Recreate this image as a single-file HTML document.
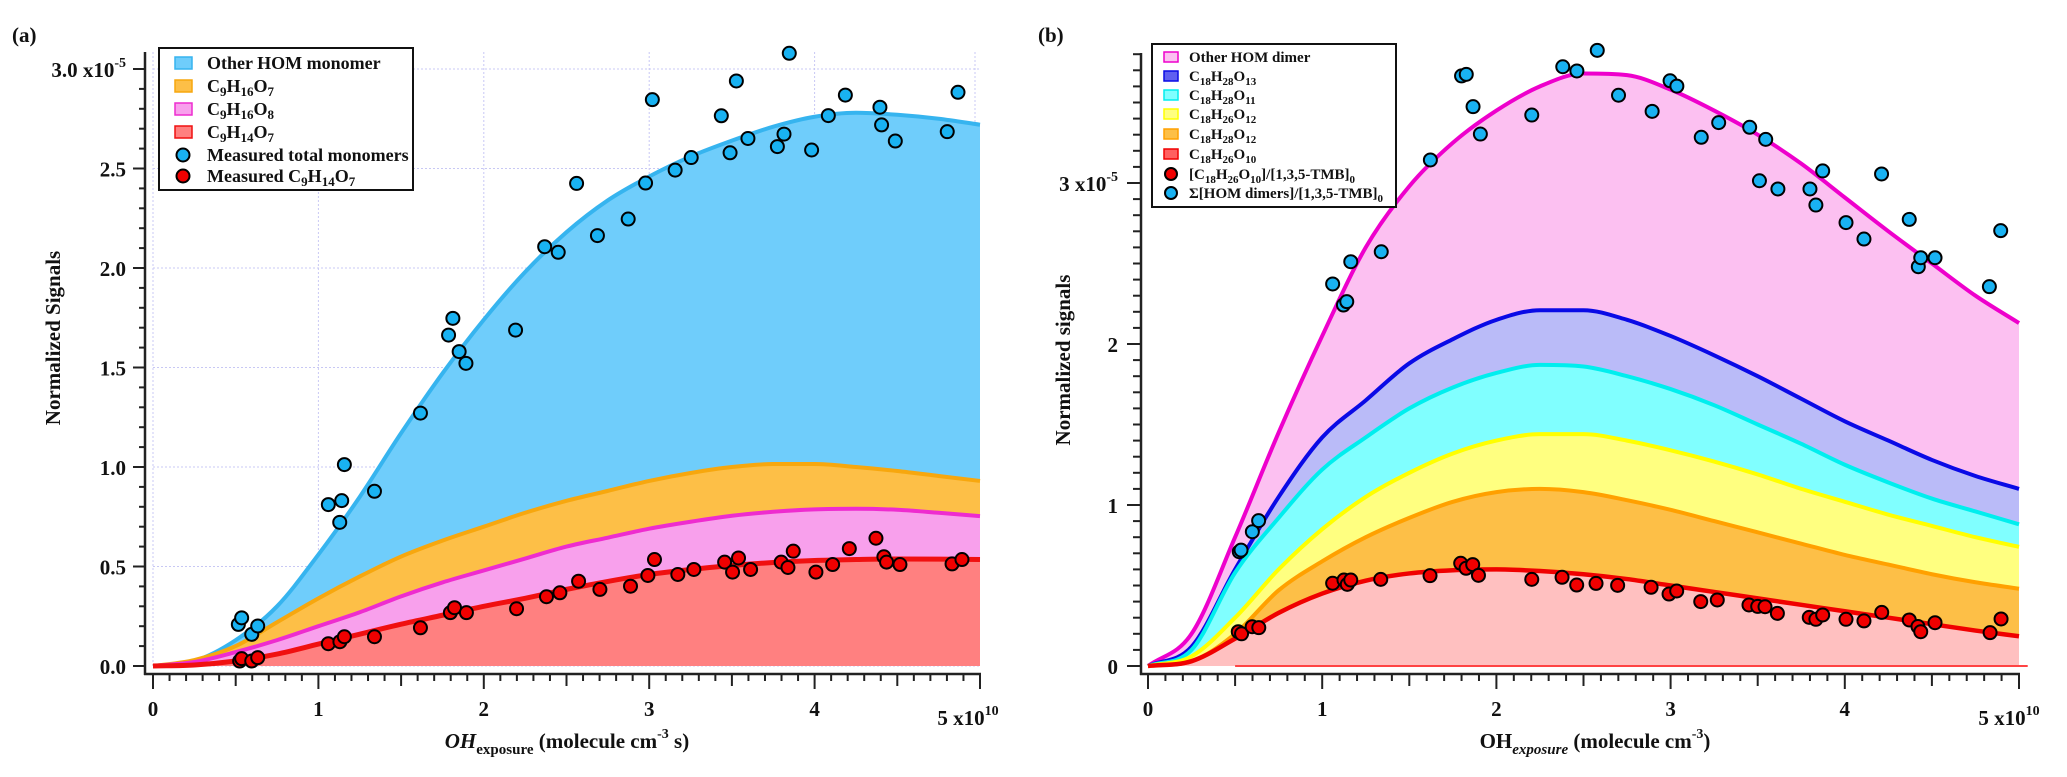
<!DOCTYPE html>
<html><head><meta charset="utf-8">
<style>
html,body{margin:0;padding:0;background:#fff;}
svg{display:block;font-family:"Liberation Serif",serif;}
.tk{font-weight:bold;font-size:21px;fill:#111;}
.lg{font-weight:bold;font-size:18px;fill:#111;}
.lgb{font-weight:bold;font-size:15px;fill:#111;}
</style></head>
<body>
<svg id="chart" width="2067" height="777" viewBox="0 0 2067 777" xmlns="http://www.w3.org/2000/svg">
<g id="pa"></g>
<g id="pb"></g>
</svg>
<script>
// ---------- Panel (a) data ----------
const xsA = [0,0.25,0.5,0.75,1,1.25,1.5,1.75,2,2.25,2.5,2.75,3,3.25,3.5,3.75,4,4.25,4.5,4.75,5];
const otherMonomerTop = [0,0.025,0.13,0.3,0.56,0.85,1.17,1.47,1.74,1.98,2.18,2.34,2.46,2.56,2.64,2.71,2.76,2.78,2.77,2.75,2.72];
const c9h16o7Top = [0,0.03,0.1,0.22,0.34,0.45,0.55,0.63,0.7,0.77,0.83,0.88,0.93,0.97,1.0,1.015,1.015,1.0,0.98,0.955,0.93];
const c9h16o8Top = [0,0.02,0.07,0.13,0.2,0.27,0.35,0.42,0.48,0.54,0.6,0.645,0.69,0.725,0.755,0.775,0.787,0.79,0.785,0.77,0.753];
const c9h14o7Top = [0,0.005,0.025,0.06,0.11,0.16,0.21,0.255,0.3,0.34,0.385,0.425,0.46,0.485,0.505,0.52,0.53,0.535,0.538,0.537,0.535];
const blueAx = [0.516,0.536,0.597,0.633,1.06,1.129,1.141,1.157,1.339,1.617,1.787,1.813,1.851,1.892,2.192,2.368,2.45,2.561,2.687,2.873,2.978,3.019,3.157,3.254,3.436,3.489,3.527,3.597,3.775,3.815,3.847,3.982,4.083,4.186,4.395,4.405,4.488,4.802,4.867];
const blueAy = [0.209,0.242,0.159,0.201,0.811,0.722,0.831,1.012,0.878,1.271,1.663,1.747,1.58,1.521,1.688,2.107,2.079,2.425,2.163,2.246,2.427,2.846,2.492,2.555,2.765,2.579,2.94,2.651,2.61,2.673,3.079,2.593,2.766,2.869,2.808,2.719,2.638,2.685,2.883];
const redAx = [0.524,0.536,0.597,0.633,1.06,1.13,1.157,1.339,1.617,1.798,1.823,1.895,2.198,2.379,2.46,2.573,2.702,2.887,2.992,3.032,3.173,3.27,3.456,3.504,3.54,3.613,3.798,3.839,3.871,4.008,4.109,4.21,4.371,4.419,4.435,4.516,4.831,4.891];
const redAy = [0.025,0.037,0.025,0.042,0.112,0.122,0.147,0.147,0.192,0.268,0.293,0.268,0.288,0.348,0.368,0.426,0.385,0.401,0.455,0.535,0.46,0.485,0.522,0.472,0.543,0.485,0.522,0.495,0.577,0.472,0.51,0.59,0.642,0.549,0.522,0.51,0.513,0.535];
const yTicksA = ["0.0","0.5","1.0","1.5","2.0","2.5"];
const xTicksA = ["0","1","2","3","4"];

// ---------- Panel (b) data ----------
const xsB = [0,0.25,0.5,0.75,1,1.25,1.5,1.75,2,2.25,2.5,2.75,3,3.25,3.5,3.75,4,4.25,4.5,4.75,5];
const otherDimerTop = [0,0.2,0.8,1.45,2.05,2.6,2.98,3.25,3.45,3.6,3.68,3.67,3.58,3.45,3.3,3.12,2.91,2.7,2.5,2.3,2.13];
const c18o13Top = [0,0.12,0.6,1.05,1.42,1.65,1.88,2.03,2.15,2.21,2.21,2.15,2.05,1.93,1.8,1.66,1.52,1.4,1.28,1.18,1.1];
const c18o11Top = [0,0.1,0.58,0.92,1.22,1.42,1.6,1.73,1.82,1.87,1.86,1.8,1.72,1.62,1.5,1.38,1.25,1.14,1.04,0.96,0.88];
const c18h26o12Top = [0,0.06,0.3,0.6,0.85,1.05,1.2,1.32,1.4,1.44,1.44,1.4,1.34,1.27,1.19,1.1,1.02,0.94,0.87,0.8,0.74];
const c18h28o12Top = [0,0.03,0.2,0.47,0.65,0.8,0.92,1.02,1.08,1.1,1.08,1.03,0.97,0.9,0.83,0.76,0.69,0.63,0.57,0.52,0.48];
const c18h26o10Top = [0,0.03,0.17,0.33,0.45,0.53,0.575,0.595,0.6,0.59,0.57,0.54,0.5,0.46,0.42,0.38,0.34,0.3,0.26,0.22,0.185];
const blueBx = [0.524,0.534,0.599,0.635,1.06,1.122,1.141,1.164,1.339,1.621,1.8,1.827,1.866,1.908,2.203,2.381,2.462,2.579,2.701,2.894,2.997,3.036,3.176,3.276,3.454,3.51,3.546,3.616,3.8,3.834,3.873,4.007,4.11,4.211,4.37,4.422,4.436,4.518,4.83,4.895];
const blueBy = [0.71,0.72,0.834,0.903,2.373,2.242,2.263,2.511,2.573,3.143,3.665,3.675,3.474,3.304,3.422,3.722,3.696,3.824,3.545,3.445,3.635,3.602,3.284,3.375,3.346,3.014,3.271,2.963,2.963,2.863,3.075,2.754,2.652,3.056,2.774,2.48,2.536,2.536,2.356,2.704];
const redBx = [0.518,0.537,0.598,0.636,1.06,1.125,1.144,1.164,1.336,1.619,1.795,1.826,1.864,1.897,2.203,2.377,2.461,2.572,2.696,2.888,2.991,3.035,3.173,3.268,3.45,3.5,3.542,3.613,3.796,3.834,3.873,4.007,4.11,4.212,4.37,4.42,4.436,4.518,4.834,4.897];
const redBy = [0.213,0.2,0.244,0.238,0.514,0.534,0.507,0.534,0.538,0.561,0.638,0.607,0.63,0.563,0.538,0.551,0.503,0.513,0.501,0.489,0.447,0.466,0.4,0.41,0.379,0.37,0.368,0.327,0.302,0.29,0.317,0.29,0.28,0.333,0.286,0.245,0.213,0.269,0.207,0.292];
const yTicksB = ["0","1","2"];
const xTicksB = ["0","1","2","3","4"];

const NS = "http://www.w3.org/2000/svg";
function mk(parent, tag, attrs){
  const e = document.createElementNS(NS, tag);
  for (const k in attrs) e.setAttribute(k, attrs[k]);
  parent.appendChild(e);
  return e;
}
// monotone cubic (Fritsch-Carlson) to avoid overshoot
function smoothPath(pts){
  const n = pts.length;
  const dx=[], dy=[], m=[];
  for (let i=0;i<n-1;i++){ dx.push(pts[i+1][0]-pts[i][0]); dy.push(pts[i+1][1]-pts[i][1]); m.push(dy[i]/dx[i]); }
  const t=[m[0]];
  for (let i=1;i<n-1;i++){ t.push(m[i-1]*m[i]<=0?0:(m[i-1]+m[i])/2); }
  t.push(m[n-2]);
  for (let i=0;i<n-1;i++){
    if (m[i]===0){ t[i]=0; t[i+1]=0; continue; }
    const a=t[i]/m[i], b=t[i+1]/m[i], s=a*a+b*b;
    if (s>9){ const k=3/Math.sqrt(s); t[i]=k*a*m[i]; t[i+1]=k*b*m[i]; }
  }
  let d = "M" + pts[0][0] + "," + pts[0][1];
  for (let i=0;i<n-1;i++){
    const h=dx[i]/3;
    d += " C"+(pts[i][0]+h)+","+(pts[i][1]+t[i]*h)+" "+(pts[i+1][0]-h)+","+(pts[i+1][1]-t[i+1]*h)+" "+pts[i+1][0]+","+pts[i+1][1];
  }
  return d;
}
function drawBand(g, xs, ys, sx, sy, fill, name){
  const pts = xs.map((x,i)=>[sx(x), sy(ys[i])]);
  const line = smoothPath(pts);
  const area = line + " L"+sx(xs[xs.length-1])+","+sy(0)+" L"+sx(xs[0])+","+sy(0)+" Z";
  const a = mk(g,"path",{d:area, fill:fill, stroke:"none"});
  
  
  return line;
}
function drawLine(g, d, stroke, sw, name){
  const l = mk(g,"path",{d:d, fill:"none", stroke:stroke, "stroke-width":sw, "stroke-linejoin":"round"});
  
  
}
function drawPoints(g, xs, ys, sx, sy, fill, name){
  xs.forEach((x,i)=>{
    const c = mk(g,"circle",{cx:sx(x), cy:sy(ys[i]), r:6.5, fill:fill, stroke:"#000", "stroke-width":2});
    
    
  });
}
function txt(g, x, y, s, cls, anchor, name){
  const t = mk(g,"text",{x:x, y:y, "class":cls, "text-anchor":anchor||"start"});
  t.innerHTML = s;
  
  
  return t;
}

// ================= Panel (a) =================
(function(){
  const g = document.getElementById("pa");
  const X0=153, XU=165.4, Y0=666, YU=199;
  const sx = v => X0 + v*XU, sy = v => Y0 - v*YU;
  for (let i=0;i<=5;i++){
    const l = mk(g,"line",{x1:sx(i)-(i==5?5:0), x2:sx(i)-(i==5?5:0), y1:52, y2:Y0, stroke:"#c8c8f4", "stroke-width":1, "stroke-dasharray":"2,2"});
    
    
  }
  for (let i=0;i<=6;i++){
    const l = mk(g,"line",{x1:X0, x2:sx(5), y1:sy(i*0.5), y2:sy(i*0.5), stroke:"#c8c8f4", "stroke-width":1, "stroke-dasharray":"2,2"});
    
    
  }
  const d1 = drawBand(g, xsA, otherMonomerTop, sx, sy, "#6fcdfb", "other-hom-monomer");
  const d2 = drawBand(g, xsA, c9h16o7Top, sx, sy, "#fdbf47", "c9h16o7");
  const d3 = drawBand(g, xsA, c9h16o8Top, sx, sy, "#f8a0ec", "c9h16o8");
  const d4 = drawBand(g, xsA, c9h14o7Top, sx, sy, "#ff8080", "c9h14o7");
  drawLine(g, d1, "#36b4ef", 4, "other-hom-monomer");
  drawLine(g, d2, "#f7a70e", 4, "c9h16o7");
  drawLine(g, d3, "#ee2ccf", 4, "c9h16o8");
  drawLine(g, d4, "#f01010", 5, "c9h14o7");
  drawPoints(g, blueAx, blueAy, sx, sy, "#19b2f2", "measured-total-monomers-point");
  drawPoints(g, redAx, redAy, sx, sy, "#f00000", "measured-c9h14o7-point");
  const ya = mk(g,"line",{x1:145,x2:145,y1:52,y2:675,stroke:"#222","stroke-width":2.5});
   
  const xa = mk(g,"line",{x1:144,x2:sx(5)+1,y1:674,y2:674,stroke:"#222","stroke-width":2.5});
   
  for (let i=0;i<=30;i++){
    const v=i*0.1, major=(i%5==0);
    const t = mk(g,"line",{x1:major?133:139,x2:145,y1:sy(v),y2:sy(v),stroke:"#222","stroke-width":2});
     
  }
  for (let i=0;i<=50;i++){
    const v=i*0.1, major=(i%10==0), mid=(i%5==0);
    const t = mk(g,"line",{x1:sx(v),x2:sx(v),y1:674,y2:major?689:(mid?686:681),stroke:"#222","stroke-width":2});
     
  }
  yTicksA.forEach((s,i)=>txt(g,126,sy(i*0.5)+8,s,"tk","end","y-tick-label"));
  txt(g,126,sy(3)+8,'3.0 x10<tspan dy="-10" font-size="14">-5</tspan>',"tk","end","y-tick-label");
  xTicksA.forEach((s,i)=>txt(g,sx(i),716,s,"tk","middle","x-tick-label"));
  txt(g,sx(5)-12,725,'5 x10<tspan dy="-10" font-size="14">10</tspan>',"tk","middle","x-tick-label");
  txt(g,60,338,'Normalized Signals',"tk","middle","y-axis-title").setAttribute("transform","rotate(-90 60 338)");
  txt(g,567,748,'<tspan font-style="italic">OH</tspan><tspan font-size="15" dy="6">exposure</tspan><tspan dy="-6"> (molecule cm</tspan><tspan font-size="14" dy="-10">-3</tspan><tspan dy="10"> s)</tspan>',"tk","middle","x-axis-title");
  txt(g,12,42,'(a)',"tk","start","panel-label").setAttribute("font-size","30");
  const lg = mk(g,"g",{});
   
  mk(lg,"rect",{x:159,y:48,width:254,height:142,fill:"#fff",stroke:"#111","stroke-width":2});
  const items = [
    ["sw","#6fcdfb","#36b4ef",'Other HOM monomer'],
    ["sw","#fdbf47","#f7a70e",'C<tspan font-size="13" dy="4">9</tspan><tspan dy="-4">H</tspan><tspan font-size="13" dy="4">16</tspan><tspan dy="-4">O</tspan><tspan font-size="13" dy="4">7</tspan>'],
    ["sw","#f8a0ec","#ee2ccf",'C<tspan font-size="13" dy="4">9</tspan><tspan dy="-4">H</tspan><tspan font-size="13" dy="4">16</tspan><tspan dy="-4">O</tspan><tspan font-size="13" dy="4">8</tspan>'],
    ["sw","#ff8080","#f01010",'C<tspan font-size="13" dy="4">9</tspan><tspan dy="-4">H</tspan><tspan font-size="13" dy="4">14</tspan><tspan dy="-4">O</tspan><tspan font-size="13" dy="4">7</tspan>'],
    ["pt","#19b2f2","",'Measured total monomers'],
    ["pt","#f00000","",'Measured C<tspan font-size="13" dy="4">9</tspan><tspan dy="-4">H</tspan><tspan font-size="13" dy="4">14</tspan><tspan dy="-4">O</tspan><tspan font-size="13" dy="4">7</tspan>']
  ];
  const rows=[63,86,109,132,155,176];
  items.forEach((it,i)=>{
    const y=rows[i];
    if(it[0]=="sw"){ const r=mk(lg,"rect",{x:175,y:y-6,width:17,height:12,fill:it[1],stroke:it[2],"stroke-width":1.5});
        }
    else { const c=mk(lg,"circle",{cx:183,cy:y,r:6.5,fill:it[1],stroke:"#000","stroke-width":2});
        }
    txt(lg,207,y+6,it[3],"lg","start","legend-entry");
  });
})();

// ================= Panel (b) =================
(function(){
  const g = document.getElementById("pb");
  const X0=1148, XU=174.2, Y0=666, YU=161;
  const sx = v => X0 + v*XU, sy = v => Y0 - v*YU;
  const d1 = drawBand(g, xsB, otherDimerTop, sx, sy, "#fcc0f1", "other-hom-dimer");
  const d2 = drawBand(g, xsB, c18o13Top, sx, sy, "#babbf8", "c18h28o13");
  const d3 = drawBand(g, xsB, c18o11Top, sx, sy, "#80ffff", "c18h28o11");
  const d4 = drawBand(g, xsB, c18h26o12Top, sx, sy, "#ffff80", "c18h26o12");
  const d5 = drawBand(g, xsB, c18h28o12Top, sx, sy, "#fdbf47", "c18h28o12");
  const d6 = drawBand(g, xsB, c18h26o10Top, sx, sy, "#ffc0c0", "c18h26o10");
  drawLine(g, d1, "#ee00cc", 4, "other-hom-dimer");
  drawLine(g, d2, "#0a0ae6", 4, "c18h28o13");
  drawLine(g, d3, "#00eeee", 4, "c18h28o11");
  drawLine(g, d4, "#ffff00", 4, "c18h26o12");
  drawLine(g, d5, "#ffa000", 4, "c18h28o12");
  drawLine(g, d6, "#f00000", 4.5, "c18h26o10");
  const bl = mk(g,"line",{x1:sx(0.5),x2:sx(5.05),y1:Y0,y2:Y0,stroke:"#f44","stroke-width":2});
   
  drawPoints(g, redBx, redBy, sx, sy, "#f00000", "c18h26o10-point");
  drawPoints(g, blueBx, blueBy, sx, sy, "#19b2f2", "hom-dimers-point");
  const ya = mk(g,"line",{x1:1141,x2:1141,y1:53,y2:675,stroke:"#222","stroke-width":2.5});
   
  const xa = mk(g,"line",{x1:1140,x2:sx(5)+1,y1:674,y2:674,stroke:"#222","stroke-width":2.5});
   
  for (let i=0;i<=38;i++){
    const v=i*0.1, major=(i%10==0);
    const t = mk(g,"line",{x1:major?1127:1133,x2:1141,y1:sy(v),y2:sy(v),stroke:"#222","stroke-width":2});
     
  }
  for (let i=0;i<=50;i++){
    const v=i*0.1, major=(i%10==0), mid=(i%5==0);
    const t = mk(g,"line",{x1:sx(v),x2:sx(v),y1:674,y2:major?689:(mid?686:681),stroke:"#222","stroke-width":2});
     
  }
  yTicksB.forEach((s,i)=>txt(g,1118,sy(i)+8,s,"tk","end","y-tick-label"));
  txt(g,1118,sy(3)+8,'3 x10<tspan dy="-10" font-size="14">-5</tspan>',"tk","end","y-tick-label");
  xTicksB.forEach((s,i)=>txt(g,sx(i),716,s,"tk","middle","x-tick-label"));
  txt(g,sx(5)-10,725,'5 x10<tspan dy="-10" font-size="14">10</tspan>',"tk","middle","x-tick-label");
  txt(g,1070,360,'Normalized signals',"tk","middle","y-axis-title").setAttribute("transform","rotate(-90 1070 360)");
  txt(g,1595,748,'OH<tspan font-size="15" dy="6" font-style="italic">exposure</tspan><tspan dy="-6"> (molecule cm</tspan><tspan font-size="14" dy="-10">-3</tspan><tspan dy="10">)</tspan>',"tk","middle","x-axis-title");
  txt(g,1038,42,'(b)',"tk","start","panel-label").setAttribute("font-size","30");
  const lg = mk(g,"g",{});
   
  mk(lg,"rect",{x:1152,y:44,width:244,height:163,fill:"#fff",stroke:"#111","stroke-width":2});
  const sub = s => '<tspan font-size="11" dy="4">'+s+'</tspan><tspan dy="-4">';
  const f = (o,hh) => 'C'+sub('18')+'H</tspan>'+sub(hh)+'O</tspan>'+sub(o)+'</tspan>';
  const items = [
    ["sw","#fcc0f1","#ee00cc",'Other HOM dimer'],
    ["sw","#6060f0","#0a0ae6",f('13','28')],
    ["sw","#80ffff","#00eeee",f('11','28')],
    ["sw","#ffff80","#ffff00",f('12','26')],
    ["sw","#fdbf47","#ffa000",f('12','28')],
    ["sw","#ff6060","#f00000",f('10','26')],
    ["pt","#f00000","",'[C'+sub('18')+'H</tspan>'+sub('26')+'O</tspan>'+sub('10')+']/[1,3,5-TMB]</tspan>'+sub('0')+'</tspan>'],
    ["pt","#19b2f2","",'Σ[HOM dimers]/[1,3,5-TMB]'+sub('0')+'</tspan>']
  ];
  const rows=[57,76,95,114,134,154,174,193];
  items.forEach((it,i)=>{
    const y=rows[i];
    if(it[0]=="sw"){ const r=mk(lg,"rect",{x:1164,y:y-5,width:14,height:10,fill:it[1],stroke:it[2],"stroke-width":1.5});
        }
    else { const c=mk(lg,"circle",{cx:1171,cy:y,r:6,fill:it[1],stroke:"#000","stroke-width":2});
        }
    txt(lg,1189,y+5,it[3],"lgb","start","legend-entry");
  });
})();
</script>
</body></html>
